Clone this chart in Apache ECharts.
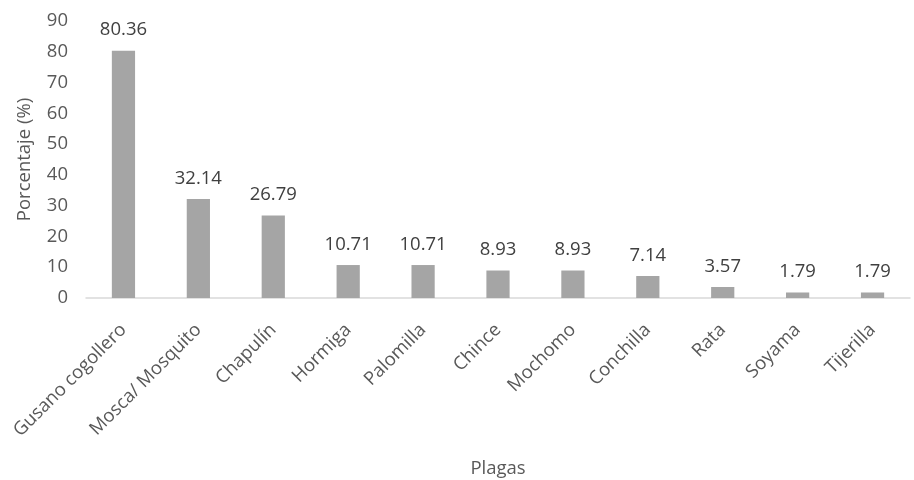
<!DOCTYPE html>
<html><head><meta charset="utf-8">
<script src="https://cdn.jsdelivr.net/npm/echarts@6/dist/echarts.min.js"></script>
<style>html,body{margin:0;padding:0;background:#fff}#c{width:914px;height:480px}</style>
</head><body><div id="c"></div>
<script>
const categories = ["Gusano cogollero","Mosca/ Mosquito","Chapulín","Hormiga","Palomilla","Chince","Mochomo","Conchilla","Rata","Soyama","Tijerilla"];
const values = [80.36,32.14,26.79,10.71,10.71,8.93,8.93,7.14,3.57,1.79,1.79];
const yTicks = {min:0,max:90,interval:10};
const font = "Open Sans";
const fs = 18.5;
const chart = echarts.init(document.getElementById('c'));
chart.setOption({
  animation:false,
  grid:{left:86,right:4,top:21,bottom:182,outerBoundsMode:'none',containLabel:false},
  xAxis:{type:'category',data:categories,
    name:'Plagas',nameLocation:'middle',nameGap:161,
    nameTextStyle:{fontFamily:font,fontSize:fs,color:'#595959'},
    axisLine:{lineStyle:{color:'#d9d9d9',width:1.5}},axisTick:{show:false},
    axisLabel:{rotate:45,interval:0,margin:29,fontFamily:font,fontSize:fs,color:'#595959'}},
  yAxis:{type:'value',min:yTicks.min,max:yTicks.max,interval:yTicks.interval,
    name:'Porcentaje (%)',nameLocation:'middle',nameGap:52,nameRotate:90,
    nameTextStyle:{fontFamily:font,fontSize:fs,color:'#595959'},
    axisLine:{show:false},axisTick:{show:false},splitLine:{show:false},
    axisLabel:{margin:18,fontFamily:font,fontSize:fs,color:'#595959'}},
  series:[{type:'bar',data:values,barWidth:'31%',itemStyle:{color:'#a5a5a5'},
    label:{show:true,position:'top',distance:11,fontFamily:font,fontSize:fs,color:'#404040',
      formatter:p=>p.value.toFixed(2)}}]
});
</script></body></html>
